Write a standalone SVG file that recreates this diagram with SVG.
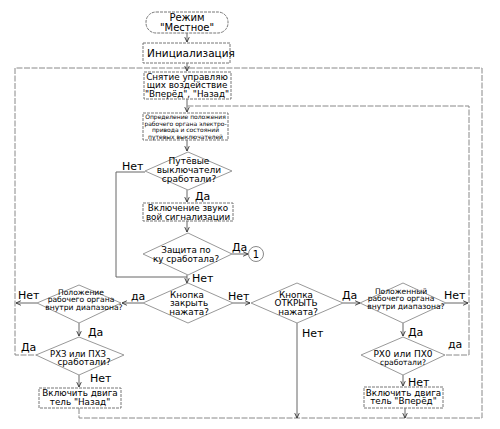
<svg xmlns="http://www.w3.org/2000/svg" width="500" height="429" viewBox="0 0 500 429">
<defs>
<marker id="arr" viewBox="0 0 8 8" refX="7.5" refY="4" markerWidth="6" markerHeight="6" orient="auto" markerUnits="userSpaceOnUse">
<path d="M1,1 L7.5,4 L1,7" fill="none" stroke="#333" stroke-width="1.2"/>
</marker>
</defs>
<style>
text{font-family:"DejaVu Sans","Liberation Sans",sans-serif;fill:#000;text-anchor:middle}
.box{fill:#fff;stroke:#777;stroke-width:1;stroke-dasharray:3 1}
.dia{fill:#fff;stroke:#999;stroke-width:1}
.c{fill:none;stroke:#666;stroke-width:1}
.loop{fill:none;stroke:#888;stroke-width:1;stroke-dasharray:6 1.5}
.lbl{font-size:11px;text-anchor:start}
.t9{font-size:8.8px}
.t8{font-size:7.6px}
.t6{font-size:6px}
</style>
<g id="connectors">
<path class="loop" d="M79,408 V418 H482 V68 H15 V355 H37"/>
<path class="loop" d="M446,355 H469 V106 H187"/>
<path class="c" d="M187,33 V42" marker-end="url(#arr)"/>
<path class="c" d="M187,63 V71" marker-end="url(#arr)"/>
<path class="c" d="M187,99 V112" marker-end="url(#arr)"/>
<path class="c" d="M187,140 V151" marker-end="url(#arr)"/>
<path class="c" d="M187,190 V202" marker-end="url(#arr)"/>
<path class="c" d="M187,221 V232" marker-end="url(#arr)"/>
<path class="c" d="M145,172 H116 V277 H187"/>
<path class="c" d="M187,275 V283" marker-end="url(#arr)"/>
<path class="c" d="M232,254 H248" marker-end="url(#arr)"/>
<path class="c" d="M233,303 H250" marker-end="url(#arr)"/>
<path class="c" d="M143,303 H122" marker-end="url(#arr)"/>
<path class="c" d="M37,303 H16" marker-end="url(#arr)"/>
<path class="c" d="M79,323 V336" marker-end="url(#arr)"/>
<path class="c" d="M79,375 V387" marker-end="url(#arr)"/>
<path class="c" d="M297,323 V418" marker-end="url(#arr)"/>
<path class="c" d="M343,303 H360" marker-end="url(#arr)"/>
<path class="c" d="M446,303 H468" marker-end="url(#arr)"/>
<path class="c" d="M403,323 V336" marker-end="url(#arr)"/>
<path class="c" d="M403,375 V386" marker-end="url(#arr)"/>
<path class="c" d="M405,408 V418" marker-end="url(#arr)"/>
<text class="lbl" x="122" y="170">Нет</text>
<text class="lbl" x="195" y="200">Да</text>
<text class="lbl" x="232" y="251">Да</text>
<text class="lbl" x="192" y="282">Нет</text>
<text class="lbl" x="228" y="300">Нет</text>
<text class="lbl" x="131" y="300">да</text>
<text class="lbl" x="18" y="299">Нет</text>
<text class="lbl" x="88" y="336">Да</text>
<text class="lbl" x="21" y="351">Да</text>
<text class="lbl" x="90" y="382">Нет</text>
<text class="lbl" x="302" y="337">Нет</text>
<text class="lbl" x="342" y="299">Да</text>
<text class="lbl" x="444" y="299">Нет</text>
<text class="lbl" x="408" y="336">Да</text>
<text class="lbl" x="448" y="348">да</text>
<text class="lbl" x="408" y="386">Нет</text>
</g>
<g id="start">
<rect class="box" x="146" y="12" width="82" height="21" rx="10"/>
<text font-size="10" x="187" y="21">Режим</text>
<text font-size="10" x="187" y="30.5">"Местное"</text>
</g>
<g id="init">
<rect class="box" x="143" y="43" width="87" height="20"/>
<text font-size="10.5" x="191" y="57">Инициализация</text>
</g>
<g id="reset">
<rect class="box" x="144" y="72" width="87" height="27"/>
<text class="t9" x="187" y="79.5">Снятие управляю</text>
<text class="t9" x="187" y="88.3">щих воздействие</text>
<text class="t9" x="187" y="97">"Вперёд", "Назад"</text>
</g>
<g id="detect">
<rect class="box" x="143" y="113" width="85" height="27"/>
<text class="t6" x="185.5" y="119">Определение положения</text>
<text class="t6" x="185.5" y="125.5">рабочего органа электро-</text>
<text class="t6" x="185.5" y="132">привода и состояний</text>
<text class="t6" x="185.5" y="138.5">путевых выключателей</text>
</g>
<g id="limit">
<polygon class="dia" points="188,152 232,171 188,190 145,171"/>
<text font-size="9" x="189" y="164">Путёвые</text>
<text font-size="9" x="189" y="173">выключатели</text>
<text font-size="9" x="189" y="182">сработали?</text>
</g>
<g id="sound">
<rect class="box" x="143" y="203" width="90" height="18"/>
<text class="t9" x="188" y="211">Включение звуко</text>
<text class="t9" x="188" y="219.5">вой сигнализации</text>
</g>
<g id="protect">
<polygon class="dia" points="188,233 232,254 188,275 143,254"/>
<text class="t9" x="186" y="253.4">Защита по</text>
<text class="t9" x="186" y="262.3">ку сработала?</text>
</g>
<g id="c1">
<circle cx="256" cy="254" r="7.5" fill="#fff" stroke="#888"/>
<text font-size="10" x="256" y="257.5">1</text>
</g>
<g id="close">
<polygon class="dia" points="188,283 233,303 188,323 143,303"/>
<text class="t9" x="187" y="297.5">Кнопка</text>
<text class="t9" x="189" y="306">закрыть</text>
<text class="t9" x="189" y="314.5">нажата?</text>
</g>
<g id="open">
<polygon class="dia" points="297,283 343,303 297,323 251,303"/>
<text class="t9" x="296" y="297.5">Кнопка</text>
<text class="t9" x="296" y="306">ОТКРЫТЬ</text>
<text class="t9" x="298" y="314.5">нажата?</text>
</g>
<g id="posL">
<polygon class="dia" points="79,285 121,303 79,323 37,303"/>
<text class="t8" x="81" y="294.5">Положение</text>
<text class="t8" x="81" y="302.1">рабочего органа</text>
<text class="t8" x="84" y="309.7">внутри диапазона?</text>
</g>
<g id="rxz">
<polygon class="dia" points="79,337 124,355 79,375 36,355"/>
<text font-size="8.5" x="78" y="356.5">РХЗ или ПХЗ</text>
<text class="t9" x="84" y="365">сработали?</text>
</g>
<g id="back">
<rect class="box" x="39" y="388" width="82" height="20"/>
<text class="t9" x="80" y="396">Включить двига</text>
<text class="t9" x="80" y="405">тель "Назад"</text>
</g>
<g id="posR">
<polygon class="dia" points="403,283 446,303 403,323 360,303"/>
<text class="t8" x="401" y="293.5">Положенный</text>
<text class="t8" x="401" y="301.1">рабочего органа</text>
<text class="t8" x="406" y="308.7">внутри диапазона?</text>
</g>
<g id="rx0">
<polygon class="dia" points="403,337 445,355 403,375 361,355"/>
<text font-size="9" x="403" y="356.5">РХ0 или ПХ0</text>
<text class="t8" x="403" y="364.5">сработали?</text>
</g>
<g id="fwd">
<rect class="box" x="364" y="387" width="79" height="21"/>
<text class="t9" x="403.5" y="395.5">Включить двига</text>
<text class="t9" x="403.5" y="404">тель "Вперёд"</text>
</g>
</svg>
